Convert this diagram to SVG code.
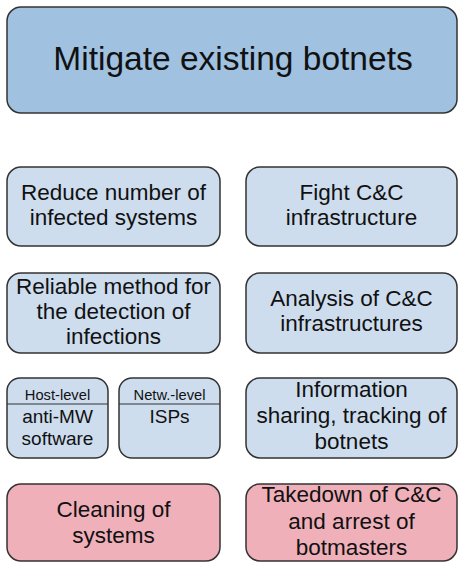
<svg xmlns="http://www.w3.org/2000/svg" width="459" height="563" viewBox="0 0 459 563">
<style>
.box{stroke:#333;stroke-width:1.5}
.top{fill:#a0c1e0}
.lb{fill:#cdddee}
.pk{fill:#f0b0ba}
text{font-family:"Liberation Sans",Arial,sans-serif;fill:#111;text-anchor:middle}
.t{font-size:22.5px}
.s{font-size:19px}
.h{font-size:14.7px}
</style>
<rect width="459" height="563" fill="#ffffff"/>
<g id="mitigate">
<rect class="box top" x="7" y="7" width="450" height="106" rx="14"/>
<text x="233" y="70" style="font-size:33.5px">Mitigate existing botnets</text>
</g>
<g id="reduce">
<rect class="box lb" x="7" y="167" width="213" height="79" rx="14"/>
<text class="t" x="113.5" y="200">Reduce number of</text>
<text class="t" x="113.5" y="225">infected systems</text>
</g>
<g id="fight">
<rect class="box lb" x="246" y="167" width="211" height="79" rx="14"/>
<text class="t" x="351.5" y="200">Fight C&amp;C</text>
<text class="t" x="351.5" y="225">infrastructure</text>
</g>
<g id="reliable">
<rect class="box lb" x="7" y="273" width="213" height="80" rx="14"/>
<text class="t" x="113.5" y="294">Reliable method for</text>
<text class="t" x="113.5" y="319">the detection of</text>
<text class="t" x="113.5" y="344">infections</text>
</g>
<g id="analysis">
<rect class="box lb" x="246" y="273" width="211" height="80" rx="14"/>
<text class="t" x="351.5" y="306">Analysis of C&amp;C</text>
<text class="t" x="351.5" y="331">infrastructures</text>
</g>
<g id="host">
<rect class="box lb" x="7" y="378" width="101" height="80" rx="13"/>
<line x1="7" y1="404" x2="108" y2="404" stroke="#333" stroke-width="1.2"/>
<text class="h" x="57.5" y="400">Host-level</text>
<text class="s" x="57.5" y="423">anti-MW</text>
<text class="s" x="57.5" y="445">software</text>
</g>
<g id="netw">
<rect class="box lb" x="119" y="378" width="101" height="80" rx="13"/>
<line x1="119" y1="404" x2="220" y2="404" stroke="#333" stroke-width="1.2"/>
<text class="h" x="169.5" y="400">Netw.-level</text>
<text class="s" x="169.5" y="423">ISPs</text>
</g>
<g id="info">
<rect class="box lb" x="246" y="378" width="211" height="80" rx="14"/>
<text class="t" x="351.5" y="397">Information</text>
<text class="t" x="351.5" y="423">sharing, tracking of</text>
<text class="t" x="351.5" y="449">botnets</text>
</g>
<g id="cleaning">
<rect class="box pk" x="7" y="484" width="213" height="77" rx="14"/>
<text class="t" x="113.5" y="517">Cleaning of</text>
<text class="t" x="113.5" y="543">systems</text>
</g>
<g id="takedown">
<rect class="box pk" x="246" y="484" width="211" height="77" rx="14"/>
<text class="t" x="351.5" y="502">Takedown of C&amp;C</text>
<text class="t" x="351.5" y="529">and arrest of</text>
<text class="t" x="351.5" y="555">botmasters</text>
</g>
<g id="connectors"></g>
</svg>
